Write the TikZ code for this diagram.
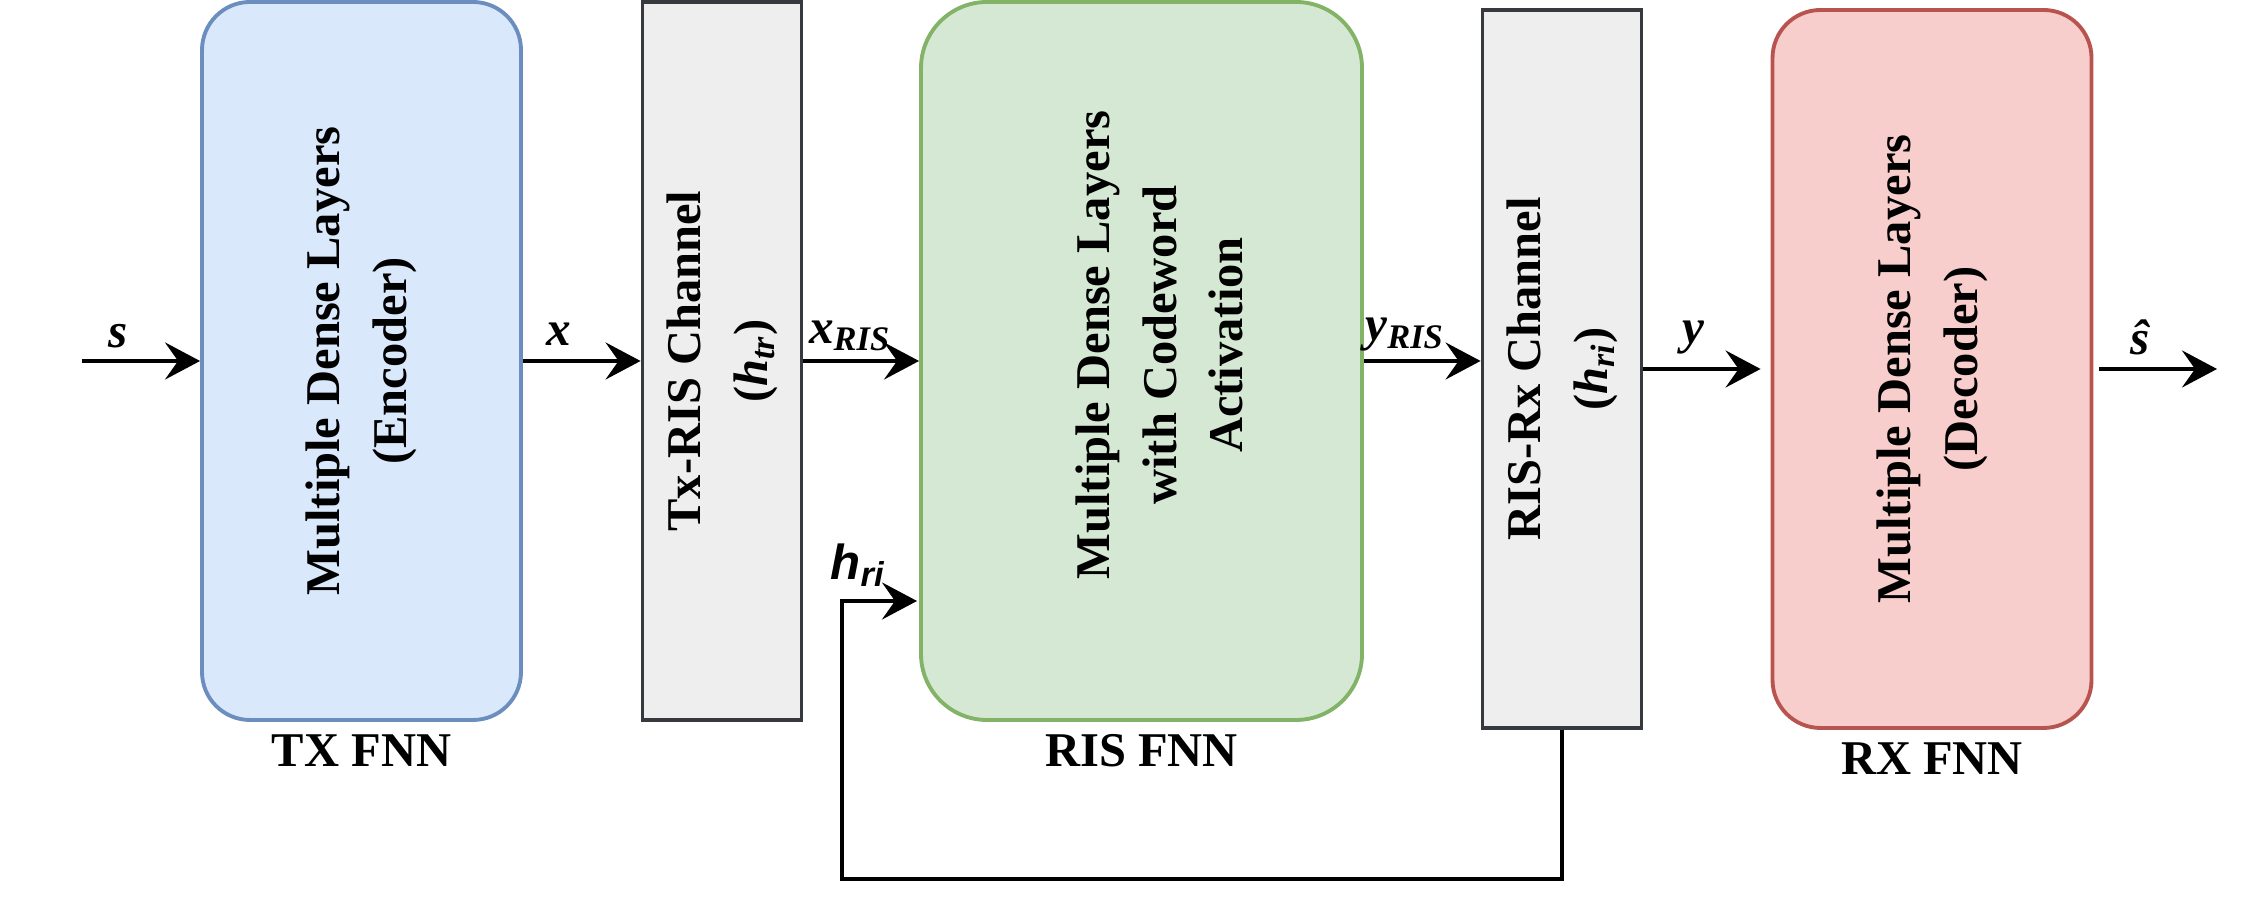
\documentclass[tikz,border=0pt]{standalone}
\usepackage{fontspec}
\setmainfont{Liberation Serif}
\newfontfamily\hrifont{Liberation Sans}
\usetikzlibrary{positioning,arrows.meta}
\definecolor{txfill}{HTML}{DAE8FC}
\definecolor{txdraw}{HTML}{6C8EBF}
\definecolor{risfill}{HTML}{D5E8D4}
\definecolor{risdraw}{HTML}{82B366}
\definecolor{rxfill}{HTML}{F8CECC}
\definecolor{rxdraw}{HTML}{B85450}
\definecolor{chanfill}{HTML}{EEEEEE}
\definecolor{chandraw}{HTML}{36393D}
\begin{document}
\begin{tikzpicture}[
      fnn/.style 2 args={draw=#1,fill=#2,rounded corners=0.48cm,line width=1.1pt,
        minimum width=3.19cm,minimum height=7.18cm},
      chan/.style={draw=chandraw,fill=chanfill,line width=1.1pt,
        minimum width=1.59cm,minimum height=7.18cm},
      boxtext/.style={rotate=90,align=center,font=\fontsize{13.8}{19}\selectfont\bfseries},
      lbl/.style={font=\fontsize{14}{16}\selectfont\bfseries\itshape},
      fnnlbl/.style={font=\fontsize{13.8}{16}\selectfont\bfseries},
      arr/.style={-{Stealth[length=0.35cm,width=0.37cm,inset=0.13cm]},line width=1.15pt}]
    \useasboundingbox (0,0) rectangle (22.64,9.16);
    \node[fnn={txdraw}{txfill}] (tx) at (3.615,5.55) {};
    \node[chan] (txris) at (7.22,5.55) {};
    \node[fnn={risdraw}{risfill},minimum width=4.41cm,rounded corners=0.66cm] (ris) at (11.415,5.55) {};
    \node[chan] (risrx) at (15.62,5.47) {};
    \node[fnn={rxdraw}{rxfill}] (rx) at (19.32,5.47) {};
    \node[boxtext] at (tx) {Multiple Dense Layers\\(Encoder)};
    \node[boxtext] at (txris) {Tx-RIS Channel\\(\textit{h}\textsubscript{\textit{tr}})};
    \node[boxtext] at ([xshift=0.18cm,yshift=0.16cm]ris.center) {Multiple Dense Layers\\with Codeword\\Activation};
    \node[boxtext] at (risrx) {RIS-Rx Channel\\(\textit{h}\textsubscript{\textit{ri}})};
    \node[boxtext] at (rx) {Multiple Dense Layers\\(Decoder)};
    \node[fnnlbl,below=0cm of tx] (txl) {TX FNN};
    \node[fnnlbl,below=0cm of ris] (risl) {RIS FNN};
    \node[fnnlbl,below=0cm of rx] (rxl) {RX FNN};
    \coordinate (in) at (0.82,5.55);
    \coordinate (out) at (22.17,5.47);
    \coordinate (fb) at (8.42,0.37);
    \coordinate (hin) at (9.17,3.15);
    \draw[arr] (in) -- (tx.west);
    \draw[arr] (tx.east) -- (txris.west);
    \draw[arr] (txris.east) -- (ris.west);
    \draw[arr] (ris.east) -- (ris.east -| risrx.west);
    \draw[arr] (risrx.east) -- ([xshift=-0.1cm]rx.west);
    \draw[arr] ([xshift=0.06cm]rx.east) -- (out);
    \draw[arr] (risrx.south) |- (fb) |- (hin);
    \node[lbl] (sl) at (1.18,5.80) {s};
    \node[lbl] (xl) at (5.59,5.82) {x};
    \node[lbl] (xrl) at (8.50,5.80) {x\textsubscript{RIS}};
    \node[lbl] (yrl) at (14.05,5.81) {y\textsubscript{RIS}};
    \node[lbl] (yl) at (16.93,5.78) {y};
    \node[lbl] (shl) at (21.40,5.79) {\^{s}};
    \node[lbl,font=\hrifont\fontsize{14}{16}\selectfont\bfseries\itshape] (hril) at (8.58,3.51) {h\textsubscript{ri}};
\end{tikzpicture}
\end{document}
